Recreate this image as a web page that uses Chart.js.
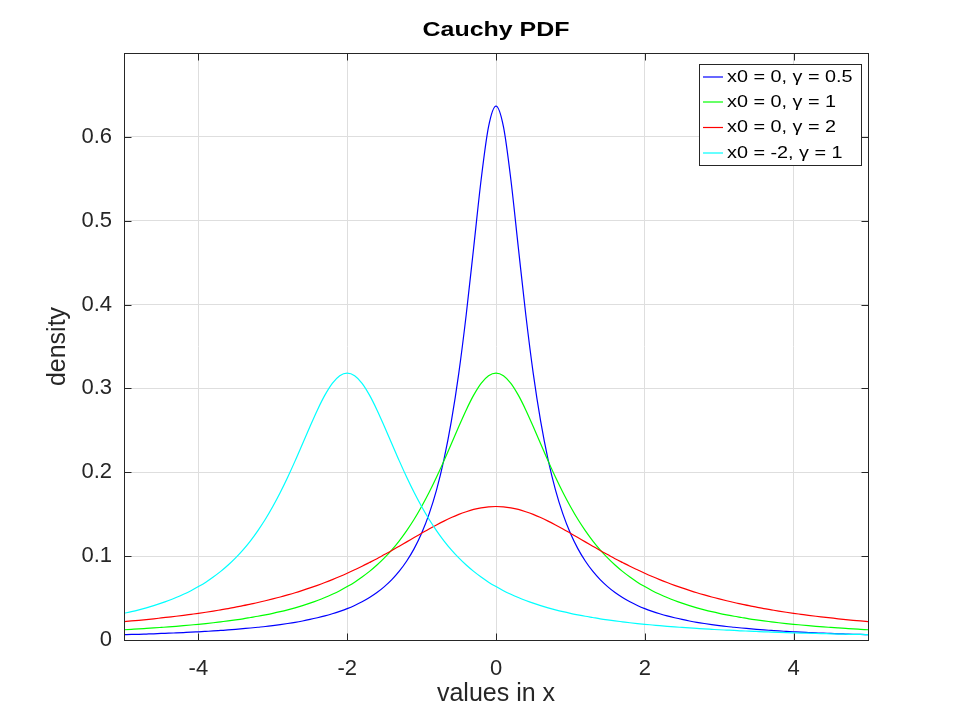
<!DOCTYPE html>
<html>
<head>
<meta charset="utf-8">
<script src="https://cdn.jsdelivr.net/npm/chart.js@4/dist/chart.umd.min.js"></script>
<style>
html,body{margin:0;padding:0;background:#fff;}
#wrap{width:960px;height:720px;}
canvas{display:block;}
</style>
</head>
<body>
<div id="wrap"><canvas id="c" width="960" height="720"></canvas></div>
<script>
const chartTitle = 'Cauchy PDF';
const xAxisTitle = 'values in x';
const yAxisTitle = 'density';
const seriesLabels = ['x0 = 0, \u03b3 = 0.5', 'x0 = 0, \u03b3 = 1', 'x0 = 0, \u03b3 = 2', 'x0 = -2, \u03b3 = 1'];
const seriesColors = ['#0000ff', '#00ff00', '#ff0000', '#00ffff'];
const xTickValues = [-4, -2, 0, 2, 4];
const xTickLabels = ['-4', '-2', '0', '2', '4'];
const yTickValues = [0, 0.1, 0.2, 0.3, 0.4, 0.5, 0.6, 0.7];
const yTickLabels = ['0', '0.1', '0.2', '0.3', '0.4', '0.5', '0.6', ''];

const xValues = [
-5.0,-4.9,-4.8,-4.7,-4.6,-4.5,-4.4,-4.3,-4.2,-4.1,
-4.0,-3.9,-3.8,-3.7,-3.6,-3.5,-3.4,-3.3,-3.2,-3.1,
-3.0,-2.9,-2.8,-2.7,-2.6,-2.5,-2.4,-2.3,-2.2,-2.1,
-2.0,-1.9,-1.8,-1.7,-1.6,-1.5,-1.4,-1.3,-1.2,-1.1,
-1.0,-0.9,-0.8,-0.7,-0.6,-0.5,-0.4,-0.3,-0.2,-0.1,
0.0,0.1,0.2,0.3,0.4,0.5,0.6,0.7,0.8,0.9,
1.0,1.1,1.2,1.3,1.4,1.5,1.6,1.7,1.8,1.9,
2.0,2.1,2.2,2.3,2.4,2.5,2.6,2.7,2.8,2.9,
3.0,3.1,3.2,3.3,3.4,3.5,3.6,3.7,3.8,3.9,
4.0,4.1,4.2,4.3,4.4,4.5,4.6,4.7,4.8,4.9,
5.0];

const densityG05 = [
0.0063,0.0066,0.0068,0.0071,0.0074,0.0078,0.0081,0.0085,0.0089,0.0093,
0.0098,0.0103,0.0108,0.0114,0.0120,0.0127,0.0135,0.0143,0.0152,0.0161,
0.0172,0.0184,0.0197,0.0211,0.0227,0.0245,0.0265,0.0287,0.0313,0.0342,
0.0374,0.0412,0.0456,0.0507,0.0566,0.0637,0.0720,0.0820,0.0942,0.1090,
0.1273,0.1501,0.1788,0.2151,0.2609,0.3183,0.3882,0.4681,0.5488,0.6121,
0.6366,0.6121,0.5488,0.4681,0.3882,0.3183,0.2609,0.2151,0.1788,0.1501,
0.1273,0.1090,0.0942,0.0820,0.0720,0.0637,0.0566,0.0507,0.0456,0.0412,
0.0374,0.0342,0.0313,0.0287,0.0265,0.0245,0.0227,0.0211,0.0197,0.0184,
0.0172,0.0161,0.0152,0.0143,0.0135,0.0127,0.0120,0.0114,0.0108,0.0103,
0.0098,0.0093,0.0089,0.0085,0.0081,0.0078,0.0074,0.0071,0.0068,0.0066,
0.0063];

const densityG1 = [
0.0122,0.0127,0.0132,0.0138,0.0144,0.0150,0.0156,0.0163,0.0171,0.0179,
0.0187,0.0196,0.0206,0.0217,0.0228,0.0240,0.0253,0.0268,0.0283,0.0300,
0.0318,0.0338,0.0360,0.0384,0.0410,0.0439,0.0471,0.0506,0.0545,0.0588,
0.0637,0.0690,0.0751,0.0818,0.0894,0.0979,0.1075,0.1183,0.1305,0.1440,
0.1592,0.1759,0.1941,0.2136,0.2341,0.2546,0.2744,0.2920,0.3061,0.3152,
0.3183,0.3152,0.3061,0.2920,0.2744,0.2546,0.2341,0.2136,0.1941,0.1759,
0.1592,0.1440,0.1305,0.1183,0.1075,0.0979,0.0894,0.0818,0.0751,0.0690,
0.0637,0.0588,0.0545,0.0506,0.0471,0.0439,0.0410,0.0384,0.0360,0.0338,
0.0318,0.0300,0.0283,0.0268,0.0253,0.0240,0.0228,0.0217,0.0206,0.0196,
0.0187,0.0179,0.0171,0.0163,0.0156,0.0150,0.0144,0.0138,0.0132,0.0127,
0.0122];

const densityG2 = [
0.0220,0.0227,0.0235,0.0244,0.0253,0.0263,0.0273,0.0283,0.0294,0.0306,
0.0318,0.0331,0.0345,0.0360,0.0375,0.0392,0.0409,0.0428,0.0447,0.0468,
0.0490,0.0513,0.0538,0.0564,0.0592,0.0621,0.0652,0.0685,0.0720,0.0757,
0.0796,0.0837,0.0879,0.0924,0.0970,0.1019,0.1068,0.1119,0.1170,0.1222,
0.1273,0.1324,0.1372,0.1418,0.1460,0.1498,0.1530,0.1557,0.1576,0.1588,
0.1592,0.1588,0.1576,0.1557,0.1530,0.1498,0.1460,0.1418,0.1372,0.1324,
0.1273,0.1222,0.1170,0.1119,0.1068,0.1019,0.0970,0.0924,0.0879,0.0837,
0.0796,0.0757,0.0720,0.0685,0.0652,0.0621,0.0592,0.0564,0.0538,0.0513,
0.0490,0.0468,0.0447,0.0428,0.0409,0.0392,0.0375,0.0360,0.0345,0.0331,
0.0318,0.0306,0.0294,0.0283,0.0273,0.0263,0.0253,0.0244,0.0235,0.0227,
0.0220];

const densityShifted = [
0.0318,0.0338,0.0360,0.0384,0.0410,0.0439,0.0471,0.0506,0.0545,0.0588,
0.0637,0.0690,0.0751,0.0818,0.0894,0.0979,0.1075,0.1183,0.1305,0.1440,
0.1592,0.1759,0.1941,0.2136,0.2341,0.2546,0.2744,0.2920,0.3061,0.3152,
0.3183,0.3152,0.3061,0.2920,0.2744,0.2546,0.2341,0.2136,0.1941,0.1759,
0.1592,0.1440,0.1305,0.1183,0.1075,0.0979,0.0894,0.0818,0.0751,0.0690,
0.0637,0.0588,0.0545,0.0506,0.0471,0.0439,0.0410,0.0384,0.0360,0.0338,
0.0318,0.0300,0.0283,0.0268,0.0253,0.0240,0.0228,0.0217,0.0206,0.0196,
0.0187,0.0179,0.0171,0.0163,0.0156,0.0150,0.0144,0.0138,0.0132,0.0127,
0.0122,0.0118,0.0114,0.0109,0.0106,0.0102,0.0098,0.0095,0.0092,0.0089,
0.0086,0.0083,0.0081,0.0078,0.0076,0.0074,0.0071,0.0069,0.0067,0.0066,
0.0064];

const seriesValues = [densityG05, densityG1, densityG2, densityShifted];

const FONT = '"Liberation Sans", Arial, Helvetica, sans-serif';
const AXIS_COLOR = '#262626';

const datasets = seriesValues.map((vals, k) => ({
  label: seriesLabels[k],
  data: xValues.map((xv, i) => ({x: xv, y: vals[i]})),
  borderColor: seriesColors[k],
  backgroundColor: seriesColors[k],
  borderWidth: 1.2,
  pointRadius: 0,
  pointHoverRadius: 0,
  cubicInterpolationMode: 'monotone',
  fill: false,
  order: seriesValues.length - k
}));

const framePlugin = {
  id: 'frame',
  afterDraw(chart) {
    const ctx = chart.ctx;
    const a = chart.chartArea;
    const xs = chart.scales.x, ys = chart.scales.y;
    const L = Math.round(a.left) + 0.5, R = Math.round(a.right) + 0.5;
    const T = Math.round(a.top) + 0.5, B = Math.round(a.bottom) + 0.5;
    ctx.save();

    // legend box
    const lx = 699.5, ly = 64.5, lw = 162, lh = 101;
    ctx.fillStyle = '#ffffff';
    ctx.fillRect(lx, ly, lw, lh);
    ctx.strokeStyle = AXIS_COLOR;
    ctx.lineWidth = 1;
    ctx.strokeRect(lx, ly, lw, lh);
    const rowY = [77, 102, 127.5, 153];
    ctx.font = '16.5px ' + FONT;
    ctx.textBaseline = 'middle';
    ctx.textAlign = 'left';
    for (let k = 0; k < seriesLabels.length; k++) {
      ctx.strokeStyle = seriesColors[k];
      ctx.lineWidth = 1.2;
      ctx.beginPath();
      ctx.moveTo(703, rowY[k]);
      ctx.lineTo(723, rowY[k]);
      ctx.stroke();
      ctx.save();
      ctx.translate(727, rowY[k]);
      ctx.scale(1.2, 1);
      ctx.fillStyle = '#000000';
      ctx.fillText(seriesLabels[k], 0, 0);
      ctx.restore();
    }

    // frame
    ctx.strokeStyle = AXIS_COLOR;
    ctx.lineWidth = 1;
    ctx.strokeRect(L, T, R - L, B - T);

    // inward ticks on all four sides
    const tl = 7;
    ctx.beginPath();
    xs.ticks.forEach(t => {
      const px = Math.round(xs.getPixelForValue(t.value)) + 0.5;
      ctx.moveTo(px, B); ctx.lineTo(px, B - tl);
      ctx.moveTo(px, T); ctx.lineTo(px, T + tl);
    });
    ys.ticks.forEach(t => {
      const py = Math.round(ys.getPixelForValue(t.value)) + 0.5;
      ctx.moveTo(L, py); ctx.lineTo(L + tl, py);
      ctx.moveTo(R, py); ctx.lineTo(R - tl, py);
    });
    ctx.stroke();

    // title (wide rendering as in the reference)
    ctx.save();
    ctx.font = 'bold 19.5px ' + FONT;
    ctx.textAlign = 'center';
    ctx.textBaseline = 'middle';
    ctx.fillStyle = '#000000';
    ctx.translate((a.left + a.right) / 2, 31);
    ctx.scale(1.28, 1);
    ctx.fillText(chartTitle, 0, 0);
    ctx.restore();

    ctx.restore();
  }
};

new Chart(document.getElementById('c'), {
  type: 'line',
  data: { datasets },
  options: {
    responsive: false,
    animation: false,
    devicePixelRatio: 1,
    layout: { padding: { top: 53, right: 92, left: 0, bottom: 0 } },
    plugins: {
      legend: { display: false },
      title: { display: false },
      tooltip: { enabled: false }
    },
    scales: {
      x: {
        type: 'linear',
        min: -5,
        max: 5,
        afterBuildTicks: s => { s.ticks = xTickValues.map(v => ({ value: v })); },
        afterFit: s => { s.height = 80; },
        grid: { color: '#dedede', lineWidth: 1, drawTicks: false },
        border: { display: false },
        ticks: {
          autoSkip: false,
          maxRotation: 0,
          padding: 16,
          color: AXIS_COLOR,
          font: { family: FONT, size: 22 },
          callback: (v, i) => xTickLabels[i]
        },
        title: {
          display: true,
          text: xAxisTitle,
          color: AXIS_COLOR,
          font: { family: FONT, size: 25 },
          padding: { top: 0, bottom: 11 }
        }
      },
      y: {
        type: 'linear',
        min: 0,
        max: 0.7,
        afterBuildTicks: s => { s.ticks = yTickValues.map(v => ({ value: v })); },
        afterFit: s => { s.width = 124; },
        grid: { color: '#dedede', lineWidth: 1, drawTicks: false },
        border: { display: false },
        ticks: {
          autoSkip: false,
          padding: 12,
          color: AXIS_COLOR,
          font: { family: FONT, size: 22 },
          callback: (v, i) => yTickLabels[i]
        },
        title: {
          display: true,
          text: yAxisTitle,
          color: AXIS_COLOR,
          font: { family: FONT, size: 25 },
          padding: { top: 43, bottom: 0 }
        }
      }
    }
  },
  plugins: [framePlugin]
});
</script>
</body>
</html>
